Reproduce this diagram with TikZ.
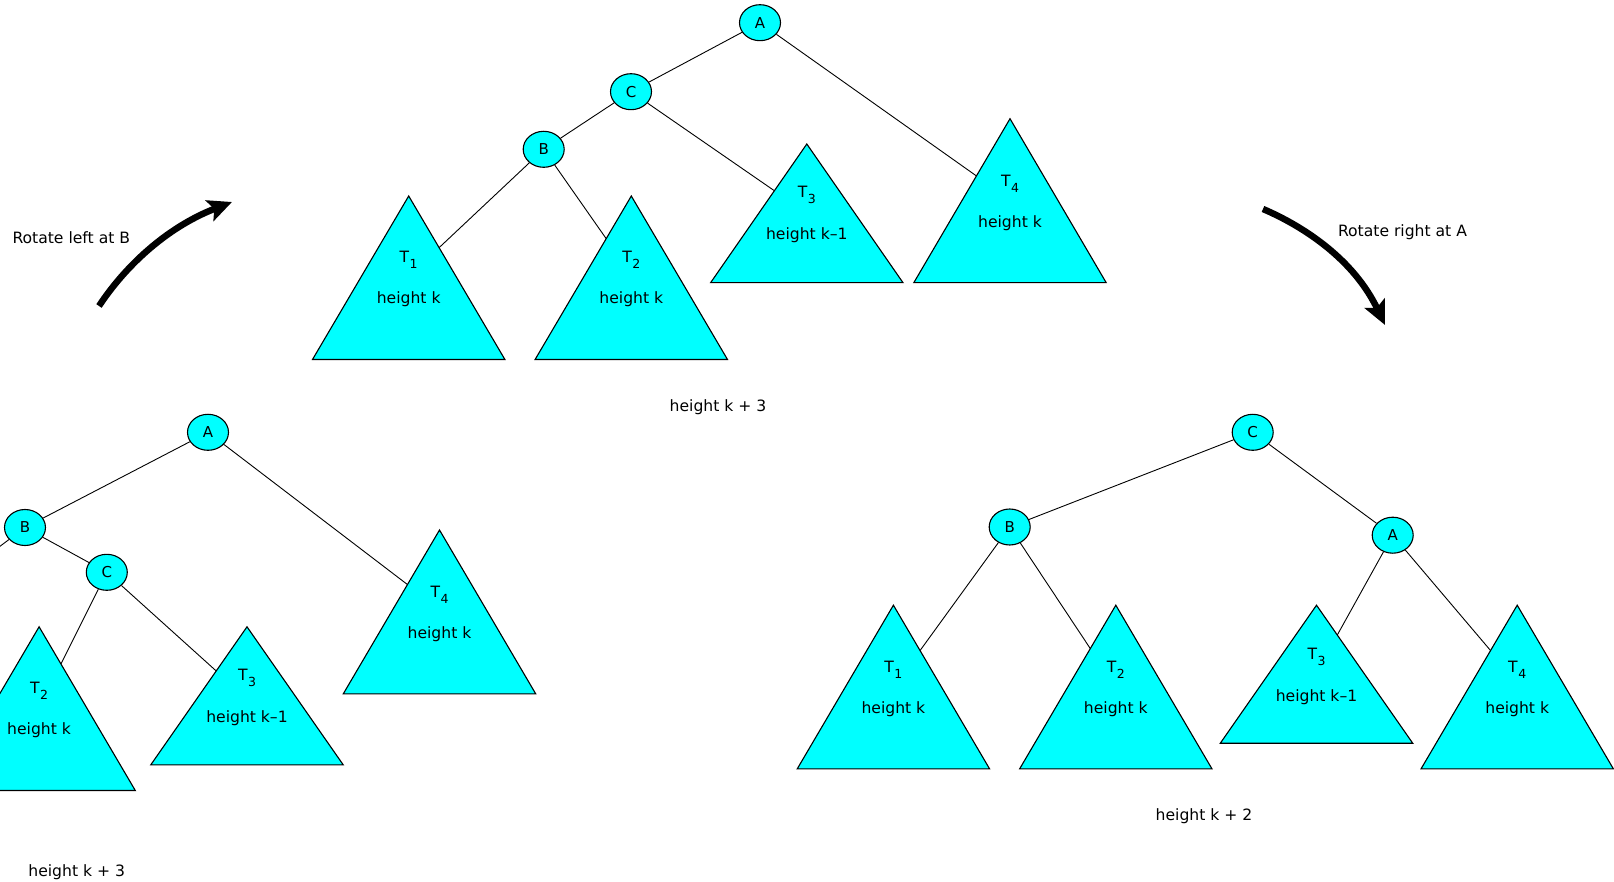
\documentclass[tikz,border=0pt]{standalone}
\usepackage{fontspec}
\setmainfont{DejaVu Sans}
\usetikzlibrary{shapes.geometric,arrows.meta,calc}
\definecolor{treecyan}{RGB}{0,255,255}
\tikzset{
  keynode/.style={ellipse,draw=black,line width=1.1pt,fill=treecyan,
    minimum width=41pt,minimum height=36pt,inner sep=0pt,
    font=\fontsize{15}{15}\selectfont},
  link/.style={draw=black,line width=0.9pt},
  subtri/.style={draw=black,line width=1.1pt,fill=treecyan},
  lbl/.style={inner sep=0pt,anchor=base,font=\fontsize{15.6}{15.6}\selectfont},
  turn/.style={line width=6.5pt,-{Stealth[length=24pt,width=22pt,inset=5pt]}}
}
% #1 name, #2/#3 apex, #4 height
\newcommand\subtreecoords[4]{%
  \coordinate (#1top) at (#2,#3);
  \coordinate (#1left) at ($(#1top)+(-96.2,#4)$);
  \coordinate (#1right) at ($(#1top)+(96.2,#4)$);
}
% #1 name, #2 index, #3 text, #4 offset of T, #5 offset of text
\newcommand\subtreedraw[5]{%
  \path[subtri] (#1top) -- (#1left) -- (#1right) -- cycle;
  \node[lbl] (#1name) at ($(#1top)+(0,#4)$) {T\kern0.5pt\raisebox{-6pt}{\fontsize{12.5}{12.5}\selectfont #2}};
  \node[lbl] (#1size) at ($(#1top)+(0,#5)$) {#3};
}
\begin{document}
\begin{tikzpicture}[x=1pt,y=-1pt]
\useasboundingbox (0,0) rectangle (1614,882);

% ---------- upper tree ----------
\node[keynode] (ua) at (760,22.7) {A};
\node[keynode] (uc) at (631,91.7) {C};
\node[keynode] (ub) at (543.7,149.3) {B};
\subtreecoords{ut1}{408.7}{196}{163.5}
\subtreecoords{ut2}{631.3}{196}{163.5}
\subtreecoords{ut3}{806.8}{144}{138.7}
\subtreecoords{ut4}{1010}{118.7}{164}
\coordinate (ut1e) at ($(ut1top)!0.316!(ut1right)$);
\coordinate (ut2e) at ($(ut2top)!0.261!(ut2left)$);
\coordinate (ut3e) at ($(ut3top)!0.337!(ut3left)$);
\coordinate (ut4e) at ($(ut4top)!0.349!(ut4left)$);
\draw[link] (ua) -- (uc);
\draw[link] (ua) -- (ut4e);
\draw[link] (uc) -- (ub);
\draw[link] (uc) -- (ut3e);
\draw[link] (ub) -- (ut1e);
\draw[link] (ub) -- (ut2e);
\subtreedraw{ut1}{1}{height k}{67}{108}
\subtreedraw{ut2}{2}{height k}{67}{108}
\subtreedraw{ut3}{3}{height k–1}{54}{96}
\subtreedraw{ut4}{4}{height k}{68}{108.6}
\node[lbl] (uh) at (718,411.7) {height k + 3};

% ---------- lower left tree ----------
\node[keynode] (la) at (208,432.3) {A};
\node[keynode] (lb) at (25,527.5) {B};
\node[keynode] (lc) at (106.8,572.3) {C};
\subtreecoords{lt2}{39.1}{626.8}{163.7}
\subtreecoords{lt3}{247}{626.8}{138}
\subtreecoords{lt4}{439.5}{530}{163.8}
\coordinate (lt1e) at (-35,572.5);
\coordinate (lt2e) at ($(lt2top)!0.227!(lt2right)$);
\coordinate (lt3e) at ($(lt3top)!0.32!(lt3left)$);
\coordinate (lt4e) at ($(lt4top)!0.333!(lt4left)$);
\draw[link] (la) -- (lb);
\draw[link] (la) -- (lt4e);
\draw[link] (lb) -- (lt1e);
\draw[link] (lb) -- (lc);
\draw[link] (lc) -- (lt2e);
\draw[link] (lc) -- (lt3e);
\subtreedraw{lt2}{2}{height k}{67}{108}
\subtreedraw{lt3}{3}{height k–1}{54}{96}
\subtreedraw{lt4}{4}{height k}{67}{108}
\node[lbl] (lh) at (76.7,876.7) {height k + 3};

% ---------- lower right tree ----------
\node[keynode] (rc) at (1252.7,432.3) {C};
\node[keynode] (rb) at (1009.7,527) {B};
\node[keynode] (ra) at (1392.7,535.2) {A};
\subtreecoords{rt1}{893.4}{605.2}{163.7}
\subtreecoords{rt2}{1115.8}{605.2}{163.7}
\subtreecoords{rt3}{1316.5}{605.2}{138}
\subtreecoords{rt4}{1517.2}{605.2}{163.7}
\coordinate (rt1e) at ($(rt1top)!0.277!(rt1right)$);
\coordinate (rt2e) at ($(rt2top)!0.265!(rt2left)$);
\coordinate (rt3e) at ($(rt3top)!0.216!(rt3right)$);
\coordinate (rt4e) at ($(rt4top)!0.277!(rt4left)$);
\draw[link] (rc) -- (rb);
\draw[link] (rc) -- (ra);
\draw[link] (rb) -- (rt1e);
\draw[link] (rb) -- (rt2e);
\draw[link] (ra) -- (rt3e);
\draw[link] (ra) -- (rt4e);
\subtreedraw{rt1}{1}{height k}{67}{108}
\subtreedraw{rt2}{2}{height k}{67}{108}
\subtreedraw{rt3}{3}{height k–1}{54}{96}
\subtreedraw{rt4}{4}{height k}{67}{108}
\node[lbl] (rh) at (1204,820.4) {height k + 2};

% ---------- rotation arrows ----------
\node[lbl] (rotl) at (71.3,244) {Rotate left at B};
\coordinate (lfrom) at (99,306);
\coordinate (lto) at (232,202);
\draw[turn] (lfrom) .. controls (124,268) and (165,228) .. (lto);

\node[lbl] (rotr) at (1402.5,236.7) {Rotate right at A};
\coordinate (rfrom) at (1263,209);
\coordinate (rto) at (1385,325);
\draw[turn] (rfrom) .. controls (1305,227) and (1354,260) .. (rto);
\end{tikzpicture}
\end{document}
